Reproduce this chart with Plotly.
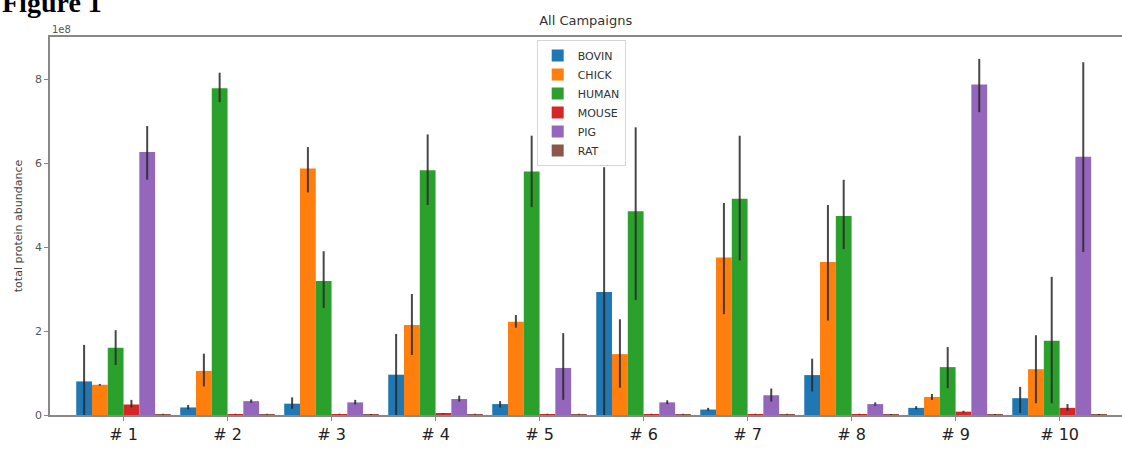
import plotly.graph_objects as go

categories = ["# 1", "# 2", "# 3", "# 4", "# 5", "# 6", "# 7", "# 8", "# 9", "# 10"]
series_names = ["BOVIN", "CHICK", "HUMAN", "MOUSE", "PIG", "RAT"]

# values in units of 1e8
BOVIN = [0.80, 0.18, 0.27, 0.96, 0.26, 2.93, 0.13, 0.95, 0.17, 0.40]
BOVIN_hi = [1.67, 0.24, 0.42, 1.93, 0.33, 5.90, 0.17, 1.34, 0.21, 0.67]
BOVIN_lo = [0.00, 0.13, 0.15, 0.00, 0.18, 0.00, 0.10, 0.56, 0.13, 0.05]

CHICK = [0.72, 1.05, 5.87, 2.14, 2.22, 1.45, 3.75, 3.64, 0.43, 1.09]
CHICK_hi = [0.74, 1.46, 6.38, 2.88, 2.38, 2.28, 5.05, 5.00, 0.50, 1.90]
CHICK_lo = [0.70, 0.68, 5.30, 1.43, 2.08, 0.65, 2.40, 2.25, 0.36, 0.28]

HUMAN = [1.60, 7.78, 3.19, 5.83, 5.80, 4.85, 5.15, 4.74, 1.14, 1.77]
HUMAN_hi = [2.02, 8.15, 3.90, 6.68, 6.65, 6.85, 6.65, 5.60, 1.62, 3.29]
HUMAN_lo = [1.19, 7.45, 2.55, 5.00, 4.95, 2.74, 3.68, 3.95, 0.64, 0.28]

MOUSE = [0.25, 0.02, 0.02, 0.03, 0.02, 0.02, 0.02, 0.02, 0.08, 0.17]
MOUSE_hi = [0.36, 0.03, 0.03, 0.04, 0.03, 0.03, 0.03, 0.03, 0.10, 0.26]
MOUSE_lo = [0.18, 0.01, 0.01, 0.02, 0.01, 0.01, 0.01, 0.01, 0.06, 0.10]

PIG = [6.26, 0.33, 0.30, 0.38, 1.12, 0.30, 0.47, 0.26, 7.87, 6.15]
PIG_hi = [6.88, 0.37, 0.36, 0.46, 1.95, 0.35, 0.63, 0.30, 8.48, 8.40]
PIG_lo = [5.60, 0.29, 0.25, 0.32, 0.36, 0.26, 0.32, 0.22, 7.21, 3.88]

RAT = [0.02, 0.02, 0.01, 0.02, 0.02, 0.02, 0.02, 0.01, 0.01, 0.01]
RAT_hi = [0.03, 0.03, 0.02, 0.03, 0.03, 0.03, 0.03, 0.02, 0.02, 0.02]
RAT_lo = [0.01, 0.01, 0.00, 0.01, 0.01, 0.01, 0.01, 0.00, 0.00, 0.00]

colors = ["#1f77b4", "#ff7f0e", "#2ca02c", "#d62728", "#9467bd", "#8c564b"]
SCALE = 1e8

data = [
    (BOVIN, BOVIN_hi, BOVIN_lo),
    (CHICK, CHICK_hi, CHICK_lo),
    (HUMAN, HUMAN_hi, HUMAN_lo),
    (MOUSE, MOUSE_hi, MOUSE_lo),
    (PIG, PIG_hi, PIG_lo),
    (RAT, RAT_hi, RAT_lo),
]

fig = go.Figure()
for name, color, (vals, hi, lo) in zip(series_names, colors, data):
    fig.add_trace(go.Bar(
        name=name,
        x=categories,
        y=[v * SCALE for v in vals],
        marker=dict(color=color, line=dict(width=0)),
        error_y=dict(
            type="data", symmetric=False,
            array=[(h - v) * SCALE for h, v in zip(hi, vals)],
            arrayminus=[(v - l) * SCALE for v, l in zip(vals, lo)],
            color="rgba(40,40,40,0.85)", thickness=2, width=0,
        ),
    ))

fig.update_layout(
    width=1122, height=450,
    margin=dict(l=50, r=0, t=37, b=35),
    paper_bgcolor="white", plot_bgcolor="white",
    barmode="group", bargap=0.09, bargroupgap=0,
    font=dict(family="DejaVu Sans", color="#444"),
    title=dict(text="All Campaigns", x=0.522, xanchor="center", y=0.955, yanchor="middle",
               font=dict(size=13, color="#333")),
    showlegend=True,
    legend=dict(x=0.454, y=0.992, xanchor="left", yanchor="top",
                bgcolor="rgba(255,255,255,0.85)", bordercolor="#d5d5d5", borderwidth=1,
                font=dict(size=11, color="#333"), tracegroupgap=0),
    xaxis=dict(
        type="category", range=[-0.707, 9.6],
        showline=True, linecolor="#888", linewidth=1.5, mirror=True,
        ticks="outside", ticklen=4, tickcolor="#888",
        tickfont=dict(size=16, color="#222"),
        showgrid=False, zeroline=False,
    ),
    yaxis=dict(
        range=[0, 9.0e8],
        tickvals=[0, 2e8, 4e8, 6e8, 8e8], ticktext=["0", "2", "4", "6", "8"],
        showline=True, linecolor="#888", linewidth=1.5,
        ticks="outside", ticklen=4, tickcolor="#888",
        tickfont=dict(size=11, color="#555"),
        showgrid=False, zeroline=False,
        title=dict(text="total protein abundance", font=dict(size=11, color="#444"), standoff=10),
    ),
    annotations=[
        dict(text="1e8", xref="paper", yref="paper", x=0.0, y=1.0, xanchor="left",
             yanchor="bottom", showarrow=False, font=dict(size=10, color="#555")),
        dict(text="<b>Figure 1</b>", xref="paper", yref="paper", x=-0.047, y=1.045,
             xanchor="left", yanchor="bottom", showarrow=False,
             font=dict(size=28, color="black", family="Liberation Serif")),
    ],
)

fig.write_html(
    "out.html",
    config={"displayModeBar": False},
    post_script=(
        "document.documentElement.style.overflow='hidden';"
        "document.body.style.margin='0px';document.body.style.overflow='hidden';"
    ),
)
